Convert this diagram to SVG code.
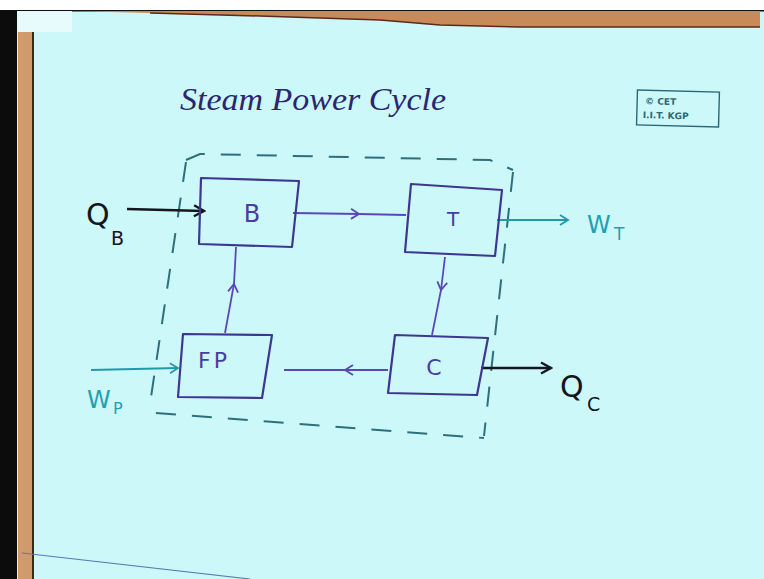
<svg xmlns="http://www.w3.org/2000/svg" width="764" height="579" viewBox="0 0 764 579">
  <defs>
    <style>
      .box { fill: none; stroke: #3f3690; stroke-width: 2.2; stroke-linejoin: round; }
      .flow { fill: none; stroke: #5a48b8; stroke-width: 1.8; }
      .work { fill: none; stroke: #1f9aaa; stroke-width: 1.8; }
      .heat { fill: none; stroke: #15151f; stroke-width: 2.6; }
      .cv { fill: none; stroke: #2e6f7c; stroke-width: 2; stroke-dasharray: 20 16; }
      .lbl { font-family: "DejaVu Sans", sans-serif; fill: #4a3ca0; }
      .qlbl { font-family: "DejaVu Sans", sans-serif; fill: #15151f; }
      .wlbl { font-family: "DejaVu Sans", sans-serif; fill: #23a0b0; }
    </style>
    <marker id="chev" viewBox="0 0 12 12" refX="10" refY="6" markerWidth="12" markerHeight="12" markerUnits="userSpaceOnUse" orient="auto">
      <path d="M2,1 L10,6 L2,11" fill="none" stroke="#5a48b8" stroke-width="1.8"/>
    </marker>
    <marker id="chevW" viewBox="0 0 12 12" refX="10" refY="6" markerWidth="12" markerHeight="12" markerUnits="userSpaceOnUse" orient="auto">
      <path d="M2,1 L10,6 L2,11" fill="none" stroke="#1f9aaa" stroke-width="1.8"/>
    </marker>
    <marker id="chevQ" viewBox="0 0 14 14" refX="12" refY="7" markerWidth="14" markerHeight="14" markerUnits="userSpaceOnUse" orient="auto">
      <path d="M2,1.5 L12,7 L2,12.5" fill="none" stroke="#15151f" stroke-width="2.4"/>
    </marker>
  </defs>

  <!-- board / frame -->
  <rect x="0" y="0" width="764" height="579" fill="#cdf8fa"/>
  <rect x="0" y="0" width="764" height="10" fill="#ffffff"/>
  <rect x="0" y="10" width="764" height="1.5" fill="#101010"/>
  <polygon points="72,11 760,11 760,27 520,27 440,25 380,20 260,16 150,13" fill="#c98a5a"/>
  <polyline points="150,13 260,16 380,20 440,25 520,27 760,27" fill="none" stroke="#5a2a1a" stroke-width="1.5"/>
  <rect x="0" y="10" width="17" height="569" fill="#0c0c0c"/>
  <rect x="18" y="32" width="14" height="547" fill="#d19a6c"/>
  <rect x="32" y="32" width="2" height="547" fill="#3a2a1a"/>
  <rect x="17" y="11" width="55" height="21" fill="#e8fbfc"/>
  <line x1="22" y1="553" x2="250" y2="579" stroke="#5a7ab0" stroke-width="1.2"/>

  <!-- title -->
  <text x="180" y="110" font-family="Liberation Serif, serif" font-style="italic" font-size="31" fill="#2a2670" textLength="266" lengthAdjust="spacingAndGlyphs">Steam Power Cycle</text>

  <!-- logo -->
  <g id="logo" transform="rotate(1.5 678 108)">
    <rect x="637" y="91" width="82" height="35" fill="none" stroke="#2a6878" stroke-width="1.4"/>
    <text x="645" y="105" font-family="DejaVu Sans, sans-serif" font-weight="bold" font-size="9" fill="#2a6878">© CET</text>
    <text x="643" y="119" font-family="DejaVu Sans, sans-serif" font-weight="bold" font-size="9" fill="#2a6878">I.I.T. KGP</text>
  </g>

  <!-- control volume boundary -->
  <g id="boundary">
    <path class="cv" d="M186,160 L200,154 L490,160 L513,170"/>
    <path class="cv" d="M513,172 L484,436"/>
    <path class="cv" d="M186,162 L150,404"/>
    <path class="cv" d="M156,413 L484,438"/>
  </g>

  <!-- connectors -->
  <g id="connectors">
    <path class="flow" d="M293,213 L359,214 L406,215" marker-mid="url(#chev)"/>
    <path class="flow" d="M445,257 L441,290 L432,335" marker-mid="url(#chev)"/>
    <path class="flow" d="M388,370 L345,370 L284,370" marker-mid="url(#chev)"/>
    <path class="flow" d="M225,333 L234,284 L236,247" marker-mid="url(#chev)"/>
    <path class="heat" d="M127,209 L204,211" marker-end="url(#chevQ)"/>
    <path class="heat" d="M481,368 L551,368" marker-end="url(#chevQ)"/>
    <path class="work" d="M497,220 L568,220" marker-end="url(#chevW)"/>
    <path class="work" d="M91,370 L178,368" marker-end="url(#chevW)"/>
  </g>

  <!-- nodes -->
  <g id="node-B">
    <polygon class="box" points="201,178 299,181 292,247 199,244"/>
    <text class="lbl" x="252" y="222" font-size="24" text-anchor="middle">B</text>
  </g>
  <g id="node-T">
    <polygon class="box" points="411,184 502,190 495,256 405,252"/>
    <text class="lbl" x="453" y="226" font-size="20" text-anchor="middle">T</text>
  </g>
  <g id="node-FP">
    <polygon class="box" points="183,334 272,335 262,398 178,397"/>
    <text class="lbl" x="214" y="368" font-size="22" text-anchor="middle" letter-spacing="3">FP</text>
  </g>
  <g id="node-C">
    <polygon class="box" points="395,335 488,338 477,395 388,393"/>
    <text class="lbl" x="434" y="375" font-size="22" text-anchor="middle">C</text>
  </g>

  <!-- boundary interaction labels -->
  <g id="label-QB">
    <text class="qlbl" x="86" y="225" font-size="30">Q</text>
    <text class="qlbl" x="111" y="245" font-size="19">B</text>
  </g>
  <g id="label-WT">
    <text class="wlbl" x="587" y="233" font-size="24">W</text>
    <text class="wlbl" x="614" y="240" font-size="17">T</text>
  </g>
  <g id="label-WP">
    <text class="wlbl" x="87" y="408" font-size="24">W</text>
    <text class="wlbl" x="113" y="414" font-size="16">P</text>
  </g>
  <g id="label-QC">
    <text class="qlbl" x="560" y="397" font-size="30">Q</text>
    <text class="qlbl" x="587" y="411" font-size="19">C</text>
  </g>
</svg>
